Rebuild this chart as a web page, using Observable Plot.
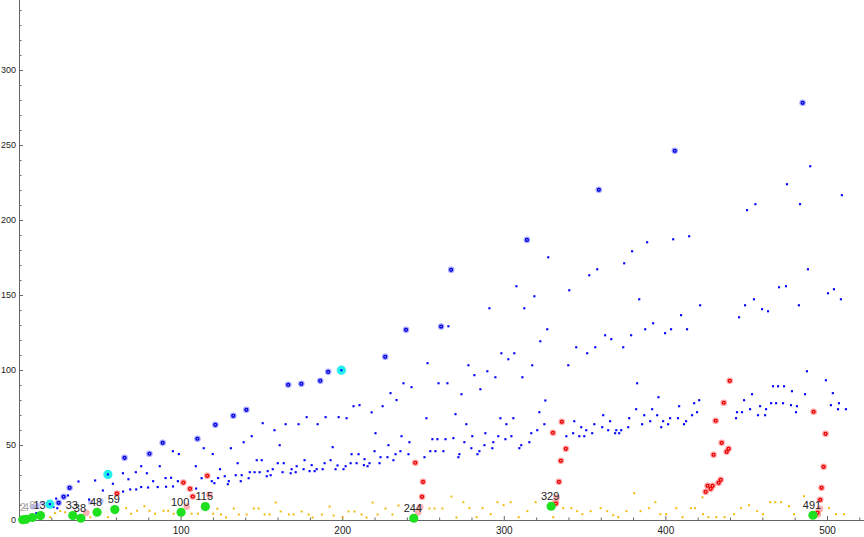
<!DOCTYPE html>
<html><head><meta charset="utf-8">
<script src="https://cdn.jsdelivr.net/npm/d3@7"></script>
<script src="https://cdn.jsdelivr.net/npm/@observablehq/plot@0.6"></script>
<style>body{margin:0;background:#fff}#chart svg{display:block}</style>
</head><body><div id="chart"></div>
<script>
// ---- data (x, y) ----
const bluePts = [[10.4,4.9],[19.2,11.1],[21,9],[23.4,8.2],[22.7,14.6],[30.0,16.7],[36.5,26.0],[43.1,14.0],[46.8,26.7],[51.6,20.0],[57.8,24.5],[64.0,31.5],[64.1,19.3],[67.4,27.5],[68.5,20.7],[72.0,32.2],[72.2,20.7],[75.3,36.2],[75.3,22.3],[78.8,31.5],[79.6,22.0],[82.7,26.2],[85.5,22.3],[86.8,36.2],[90.4,28.3],[90.7,22.5],[93.8,28.5],[94.9,46.2],[95.0,22.7],[98.6,44.3],[98.0,26.2],[109.1,36.2],[109.3,21.3],[112.7,28.2],[114.0,48.2],[119.0,26.2],[119.6,44.3],[120.6,24.9],[122.9,28.3],[124.1,34.2],
[127.0,29.5],[128.9,24.2],[129.5,26.2],[130.8,48.2],[133.8,30.2],[135.0,38.2],[136.9,26.2],[137.5,30.2],[138.7,52.2],[141.8,28.2],[142.5,32.2],[143.7,56.2],[145.5,32.2],[146.8,40.2],[148.6,32.2],[149.9,40.2],[150.5,64.9],[153.0,29.5],[153.6,32.9],[155.4,30.2],[156.7,34.2],[157.8,60.2],[159.8,38.2],[161.0,50.2],[162.8,32.2],[163.5,38.2],[164.7,64.2],[167.8,31.5],[168.4,34.2],[170.9,32.2],[171.5,36.2],[172.7,64.2],[175.8,34.2],[176.4,40.2],[177.7,68.9],[179.5,32.9],[180.8,36.9],[182.6,32.9],[183.9,34.2],[184.5,64.2],[187.6,34.2],[188.8,38.2],[189.4,68.9],[192.5,40.2],[193.8,48.9],[195.6,34.2],[196.8,36.7],[197.5,68.9],[200.5,34.2],[201.8,36.2],[202.4,68.2],[204.9,38.2],[205.5,44.2],[206.7,76.2],[208.6,38.2],[209.8,44.2],[210.4,76.9],[213.1,36.9],[213.5,40.9],[215.4,36.2],[216.6,38.2],[217.9,72.1],[219.7,46.2],[220.3,58.2],[222.8,38.2],[223.4,42.2],[224.7,76.2],[227.7,42.2],[228.3,50.2],[229.6,84.9],[231.4,40.2],[232.7,44.2],[233.3,80.3],[235.7,46.2],[236.4,56.2],[237.6,91.5],[240.7,44.2],[241.3,52.2],[242.6,88.9],[250.6,42.2],[251.8,68.2],[252.5,104.9],[254.2,46.2],[255.5,54.2],[257.4,46.2],[258.6,54.2],[259.3,91.5],[262.3,46.2],[263.6,54.2],[264.8,91.5],[265.4,129.5],[268.5,54.9],[269.8,70.9],[271.6,42.2],[272.2,44.2],[273.5,84.2],[275.3,52.2],[276.5,64.2],[277.8,103.5],[279.6,48.2],[280.2,56.2],[281.5,96.9],[283.4,44.2],[284.6,46.2],[285.2,87.5],[287.7,50.2],[288.3,58.2],[289.5,99.5],[290.8,141.5],[292.6,48.2],[293.2,52.2],[294.5,95.5],[296.3,56.2],[297.6,68.2],[298.2,111.5],[300.7,54.2],[301.3,64.2],[302.5,107.5],[304.4,56.2],[305.6,68.2],[306.2,111.5],[307.5,156.2],[309.3,48.2],[310.5,50.2],[311.2,95.5],[312.4,141.5],[315.5,52.2],[316.7,58.2],[317.3,103.5],[318.6,149.5],[320.4,60.2],[321.7,72.2],[322.3,119.5],[324.8,64.2],[325.4,80.0],[326.6,127.5],[327.2,175.5],[338.4,56.2],[339.6,103.5],[340.2,153.5],[342.6,58.2],[343.3,66.2],[344.5,115.5],[346.4,56.2],[347.6,62.2],[349.5,56.2],[350.7,60.2],[351.3,111.5],[352.6,163.5],[354.4,58.2],[355.7,64.2],[356.3,115.5],[357.5,167.5],[360.6,62.2],[361.2,70.2],[362.4,123.5],[364.3,60.2],[365.5,66.2],[366.2,120.9],[368.6,58.2],[369.3,60.2],[371.1,58.2],[372.3,60.2],[373.6,115.5],[374.2,171.5],[376.7,62.2],[377.3,68.2],[378.5,123.5],[379.1,179.5],[381.6,74.2],[382.2,91.5],[383.5,147.5],[385.3,64.2],[386.6,70.2],[387.2,127.5],[388.4,185.5],[390.3,66.2],[391.5,74.2],[392.1,131.5],[394.6,70.2],[395.4,82.2],[397.1,62.2],[398.3,66.2],[399.5,124.9],[401.4,64.2],[402.6,68.2],[403.2,127.5],[404.5,187.5],[407.5,68.2],[408.2,76.2],[409.4,136.9],[411.2,64.2],[412.5,66.2],[413.1,127.5],[414.4,189.5],[416.2,70.2],[417.5,78.2],[419.3,72.2],[420.6,80.2],[421.2,143.5],[443.4,68.2],[444.0,72.2],[445.3,135.5],[447.1,72.2],[448.4,80.2],[449.0,143.5],[450.2,206.9],[452.1,74.2],[453.3,84.2],[454.5,147.5],[455.4,210.9],[457.0,70.2],[458.3,76.2],[459.5,140.9],[461.4,70.2],[462.0,74.2],[463.2,139.5],[465.1,78.2],[466.3,89.5],[468.2,78.2],[469.4,89.5],[470.0,155.5],[472.5,78.2],[473.1,89.5],[474.3,156.2],[474.9,224.2],[477.4,76.9],[478.0,86.2],[480.5,72.2],[481.1,76.2],[482.3,143.5],[483.0,210.9],[486.1,84.2],[487.3,99.5],[487.9,167.5],[489.3,236.2],[499.0,93.5],[500.3,151.5],[502.1,76.9],[503.3,84.9],[504.0,154.2],[506.5,74.2],[507.1,78.2],[508.3,147.5],[508.9,216.9],[511.4,74.2]];

const blueRecordPts = [[24.2,11.8],[27.3,15.8],[31.0,21.8],[65.0,41.8],[80.4,44.5],[88.6,51.8],[110.1,54.5],[121.2,63.8],[132.3,69.8],[140.4,73.8],[166.3,90.5],[174.4,91.1],[186.1,93.1],[191.0,99.1],[226.3,109.1],[239.2,127.1],[260.9,129.3],[267.1,167.1],[314.0,187.1],[358.5,220.5],[405.5,246.5],[484.6,278.5]];

const cyanPts = [[18.8,10.9],[54.7,30.7],[199.2,100.2]];

const redPts = [[60.3,18.0],[101.4,25.3],[105.5,21.1],[107.2,16.0],[116.2,29.8],[244.9,38.5],[249.7,25.8],[249.1,15.8],[330.1,58.5],[335.6,65.8],[338.1,47.8],[335.0,39.8],[333.8,25.8],[331.9,11.3],[439.5,93.1],[435.8,78.5],[430.8,66.5],[434.5,51.8],[438.8,47.8],[437.6,45.8],[429.5,43.8],[433.9,27.1],[432.6,25.1],[428.9,23.1],[425.8,23.1],[427.7,21.1],[424.6,19.1],[491.4,72.5],[498.8,57.8],[497.6,35.8],[496.3,21.8],[495.5,13.8],[493.8,5.1]];

const pinkPts = [[41.3,5.1],[103.5,9.3],[117.5,17.1],[246.7,5.5],[247.9,8.9],[331.7,12.2],[332.3,15.3],[495.3,7.8],[493.9,4.0]];

const lavenderPts = [[8.3,8.9],[11.0,10.0],[14,11.5],[43.9,12.2],[50.5,12.9]];

const yellowPts = [[19.0,2.2],[22.1,4.9],[25.2,6.3],[28.3,5.5],[43.8,2.2],[54.7,2.2],[66.0,8.2],[69.1,4.5],[72.8,6.5],[77.3,9.5],[80.4,6.5],[83.9,4.5],[89.1,6.5],[92.0,6.5],[95.4,4.5],[106.5,4.5],[110.5,4.5],[119.8,4.5],[122.5,7.8],[124.7,4.0],[127.8,2.0],[132.6,8.0],[135.7,4.0],[140.6,4.0],[145.0,8.0],[148.0,8.0],[151.7,4.0],[154.8,4.0],[158.5,12.0],[161.6,6.0],[166.7,4.0],[169.6,4.0],[174.6,6.0],[178.9,4.0],[181.4,2.0],[187.1,4.0],[191.9,9.3],[194.4,3.3],[199.9,2.0],[203.6,6.0],[207.3,6.0],[211.7,4.0],[214.8,2.0],[218.5,12.0],[221.6,4.0],[226.5,8.0],[230.8,4.0],[234.5,10.0],[253.7,8.0],[256.8,8.0],[261.7,8.0],[267.3,16.0],[270.4,2.0],[274.7,12.2],[278.4,8.2],[282.9,2.2],[286.5,8.2],[291.6,4.2],[295.8,12.2],[299.6,10.2],[303.9,12.2],[308.9,2.2],[314.3,6.2],[319.4,12.2],[330.3,2.2],[336.5,8.2],[341.5,8.2],[345.1,6.2],[348.3,4.2],[353.4,6.2],[359.6,8.2],[363.7,6.2],[367.4,3.5],[370.5,2.2],[375.6,6.2],[380.4,18.2],[384.3,6.2],[389.6,8.2],[393.5,12.2],[396.6,4.2],[400.2,4.2],[406.5,8.2],[410.3,2.2],[415.6,8.2],[418.1,8.2],[422.6,15.5],[423.0,4.2],[426.3,2.2],[431.2,2.2],[436.3,2.2],[442.2,4.2],[446.6,8.2],[451.5,10.2],[456.5,6.2],[460.1,4.2],[464.5,12.2],[467.7,12.2],[471.2,12.2],[476.2,9.5],[479.3,4.2],[485.5,16.2],[501.0,8.2],[505.3,4.2],[510.3,4.2]];

const greenX = [2,4,8,13,33,38,48,59,100,115,244,329,491];
const greenY = [0.5,0.8,2.0,3.3,3.3,1.5,5.5,7.3,5.5,9.3,1.5,9.5,3.5];
const greenLabelShown = [false,false,false,true,true,true,true,true,true,true,true,true,true];

const xMajor = [100,200,300,400,500];
const yMajor = [0,50,100,150,200,250,300];

// ---- build tables ----
const toObj = a => a.map(([x,y]) => ({x,y}));
const blue = toObj(bluePts), blueRec = toObj(blueRecordPts), cyan = toObj(cyanPts),
      red = toObj(redPts), pink = toObj(pinkPts), lav = toObj(lavenderPts), yellow = toObj(yellowPts);
const greens = greenX.map((x,i) => ({x, y: greenY[i], label: String(x), shown: greenLabelShown[i]}));
const xMinor = d3.range(20, 521, 20).filter(v => v % 100 !== 0);
const yMinor = d3.range(10, 341, 10).filter(v => v % 50 !== 0);

const XMAX = 522.9, YMAX = 346.7;
const axisCol = "#666";
const font = "'Liberation Sans', Arial, sans-serif";

const chart = Plot.plot({
  width: 864, height: 537,
  x: {domain: [0, XMAX], range: [19, 864], axis: null},
  y: {domain: [0, YMAX], range: [520, 0], axis: null},
  style: {fontFamily: font, background: "#fff", overflow: "visible"},
  marks: [
    // axes lines
    Plot.ruleX([0], {y1: 0, y2: YMAX, stroke: axisCol, strokeWidth: 1}),
    Plot.ruleY([0], {x1: 0, x2: XMAX, stroke: axisCol, strokeWidth: 1}),
    // ticks (inward)
    Plot.ruleY(yMajor, {y: d => d, x1: 0, x2: 4/1.616, stroke: axisCol}),
    Plot.ruleY(yMinor, {y: d => d, x1: 0, x2: 2.5/1.616, stroke: axisCol}),
    Plot.ruleX(xMajor, {x: d => d, y1: 0, y2: 4/1.5, stroke: axisCol}),
    Plot.ruleX(xMinor, {x: d => d, y1: 0, y2: 2.5/1.5, stroke: axisCol}),
    // tick labels
    Plot.text(yMajor, {x: 0, y: d => d, text: d => String(d), textAnchor: "end", dx: -3.5, fontSize: 9, fill: "#222"}),
    Plot.text(xMajor, {x: d => d, y: 0, text: d => String(d), dy: 10, fontSize: 10, fill: "#222"}),
    // yellow series
    Plot.dot(yellow, {x: "x", y: "y", symbol: "square", r: 1.1, fill: "#f2b800", stroke: "none"}),
    // faded points
    Plot.dot(lav, {x: "x", y: "y", r: 2.6, fill: "#b4b4ff", fillOpacity: 0.8, stroke: "none"}),
    // blue small
    Plot.dot(blue, {x: "x", y: "y", symbol: "square", r: 1.2, fill: "#0000ff", stroke: "none"}),
    // blue records (halo)
    Plot.dot(blueRec, {x: "x", y: "y", r: 3.3, fill: "#8c8cff", fillOpacity: 0.75, stroke: "none"}),
    Plot.dot(blueRec, {x: "x", y: "y", r: 2.1, fill: "#0000dd", stroke: "none"}),
    Plot.dot(blueRec, {x: "x", y: "y", r: 0.8, fill: "#a0a0ff", stroke: "none"}),
    // pink
    Plot.dot(pink, {x: "x", y: "y", r: 3.4, fill: "#ffb0b0", stroke: "none"}),
    // red (halo)
    Plot.dot(red, {x: "x", y: "y", r: 3.3, fill: "#ff8c8c", fillOpacity: 0.8, stroke: "none"}),
    Plot.dot(red, {x: "x", y: "y", r: 2.1, fill: "#ee0000", stroke: "none"}),
    Plot.dot(red, {x: "x", y: "y", r: 0.8, fill: "#ffb0b0", stroke: "none"}),
    // cyan
    Plot.dot(cyan, {x: "x", y: "y", r: 4.6, fill: "#22eeee", stroke: "none"}),
    Plot.dot(cyan, {x: "x", y: "y", symbol: "square", r: 1.2, fill: "#0000ff", stroke: "none"}),
    // green
    Plot.dot(greens, {x: "x", y: "y", r: 4.6, fill: "#1ee01e", stroke: "none"}),
    // labels
    Plot.text(greens.filter(d => d.shown), {x: "x", y: "y", text: "label", dy: -10, dx: -1, fontSize: 11, fill: "#222"}),
    Plot.text(greens.filter(d => !d.shown), {x: "x", y: "y", text: "label", dy: -12, fontSize: 11, fill: "#aaa"})
  ]
});
document.getElementById("chart").appendChild(chart);
</script>
</body></html>
